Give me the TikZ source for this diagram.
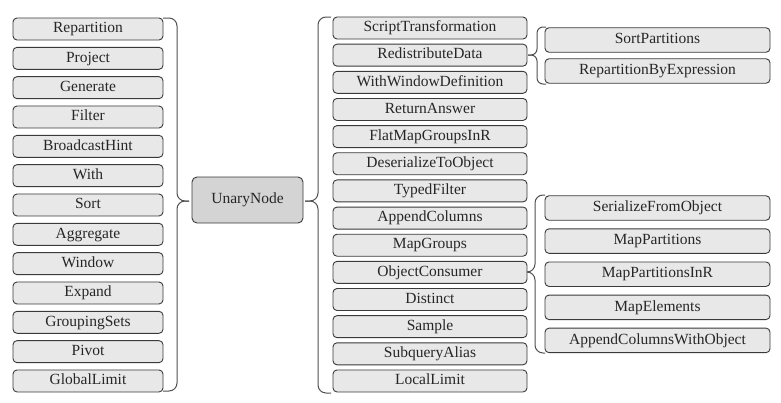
\documentclass[tikz,border=0pt]{standalone}
\usepackage{fontspec}
\setmainfont{Liberation Serif}
\definecolor{boxfill}{HTML}{E8E8E8}
\definecolor{unfill}{HTML}{D4D4D4}
\definecolor{boxline}{HTML}{3A3A3A}
\definecolor{txt}{HTML}{262626}
\definecolor{braceline}{HTML}{505050}
\begin{document}
\begin{tikzpicture}[x=1pt,y=-1pt,
  box/.style={draw=boxline, line width=0.9pt, rounded corners=4pt, fill=boxfill, text=txt,
    font=\rmfamily\fontsize{15.5}{18}\selectfont, inner sep=0pt, text height=11pt, text depth=3.5pt},
  lbox/.style={box, minimum width=150pt, minimum height=22pt},
  mbox/.style={box, minimum width=194pt, minimum height=22pt},
  rbox/.style={box, minimum width=225pt, minimum height=24.5pt},
  unbox/.style={box, fill=unfill, minimum width=111pt, minimum height=46pt, rounded corners=5pt},
  brace/.style={draw=braceline, line width=1pt, rounded corners=#1},
  brace/.default=8pt]
\useasboundingbox (0,0) rectangle (781,402);
% left column
\foreach \t [count=\i from 0] in {Repartition,Project,Generate,Filter,BroadcastHint,With,Sort,Aggregate,Window,Expand,GroupingSets,Pivot,GlobalLimit}
  \node[lbox] (l\i) at (88,{29+29.33*\i}) {\t};
% center
\node[unbox] (un) at (247.5,200) {UnaryNode};
% middle column
\foreach \t [count=\i from 0] in {ScriptTransformation,RedistributeData,WithWindowDefinition,ReturnAnswer,FlatMapGroupsInR,DeserializeToObject,TypedFilter,AppendColumns,MapGroups,ObjectConsumer,Distinct,Sample,SubqueryAlias,LocalLimit}
  \node[mbox] (m\i) at (430,{28+27.15*\i}) {\t};
% right top
\node[rbox] (r0) at (657.5,40) {SortPartitions};
\node[rbox] (r1) at (657.5,71) {RepartitionByExpression};
% right bottom
\foreach \t [count=\i from 0] in {SerializeFromObject,MapPartitions,MapPartitionsInR,MapElements,AppendColumnsWithObject}
  \node[rbox] (s\i) at (657.5,{208+33.1*\i}) {\t};
% braces
\coordinate (lbt) at (163,18);
\coordinate (lbb) at (163,391);
\coordinate (lbtip) at (189,201);
\draw[brace] (lbt) -- (177,18) -- (177,201) -- (lbtip);
\draw[brace] (lbb) -- (177,391) -- (177,201) -- (lbtip);
\coordinate (rbt) at (331,17);
\coordinate (rbb) at (331,393);
\coordinate (rbtip) at (305,201);
\draw[brace] (rbt) -- (318,17) -- (318,201) -- (rbtip);
\draw[brace] (rbb) -- (318,393) -- (318,201) -- (rbtip);
\coordinate (tbt) at (546,27);
\coordinate (tbb) at (546,84);
\coordinate (tbtip) at (528,55);
\draw[brace=6pt] (tbt) -- (537,27) -- (537,55) -- (tbtip);
\draw[brace=6pt] (tbb) -- (537,84) -- (537,55) -- (tbtip);
\coordinate (bbt) at (545,195);
\coordinate (bbb) at (545,353);
\coordinate (bbtip) at (527,272);
\draw[brace] (bbt) -- (535,195) -- (535,272) -- (bbtip);
\draw[brace] (bbb) -- (535,353) -- (535,272) -- (bbtip);
\end{tikzpicture}
\end{document}
